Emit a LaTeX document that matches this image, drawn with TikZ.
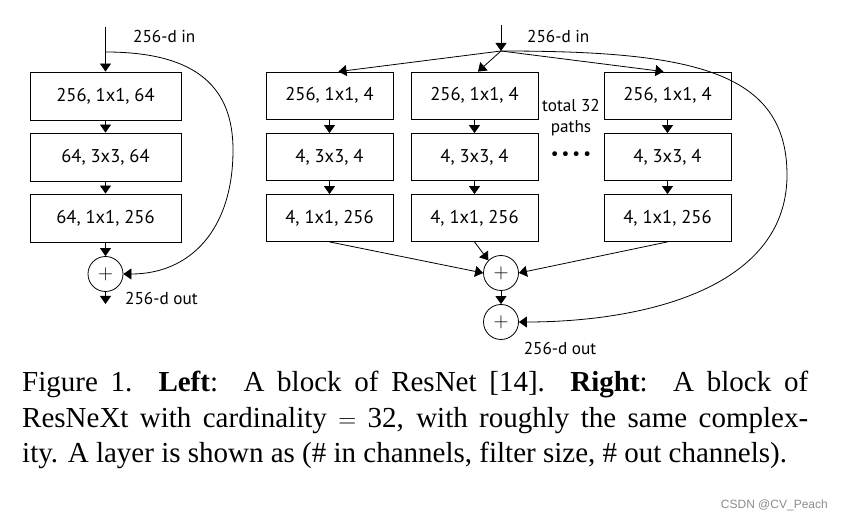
\documentclass[tikz,border=0pt]{standalone}
\usepackage{fontspec}
\setmainfont{Liberation Serif}
\newfontfamily\diagfont{PT Sans}
\newfontfamily\capfont{Liberation Serif}
\newfontfamily\wmfont{Liberation Sans}
\usetikzlibrary{arrows.meta}
\tikzset{
  layer/.style={draw, line width=0.8pt, font=\diagfont\fontsize{18.5}{20}\selectfont, inner sep=0pt},
  lbox/.style={layer, minimum width=151pt, minimum height=48pt},
  rbox/.style={layer, minimum width=127pt, minimum height=47pt},
  sumc/.style={draw, circle, minimum size=35pt, inner sep=0pt, line width=0.8pt, font=\fontsize{22}{24}\selectfont},
  arr/.style={-{Triangle[width=11pt,length=8pt]}, line width=0.8pt},
  lbl/.style={font=\diagfont\fontsize{17.2}{19}\selectfont, inner sep=0pt},
  capline/.style={font=\capfont\fontsize{29}{34}\selectfont, inner sep=0pt, anchor=base west},
  wm/.style={font=\wmfont\fontsize{12}{14}\selectfont, text=black!45, inner sep=0pt, anchor=base east}
}
\begin{document}
\begin{tikzpicture}[x=1pt,y=-1pt]
\useasboundingbox (0,0) rectangle (841,518);
% ---- left block
\node[lbox] (L1) at (105.5,96) {256, 1x1, 64};
\node[lbox] (L2) at (105.5,157) {64, 3x3, 64};
\node[lbox] (L3) at (105.5,218) {64, 1x1, 256};
\node[sumc] (LS) at (105.5,274) {$+$};
\coordinate (Lin) at (105.5,27);
\coordinate (Lsplit) at (105.5,52);
\coordinate (Lout) at (105.5,304);
\node[lbl, anchor=west] (Linl) at (133,36) {256-d in};
\node[lbl, anchor=west] (Loutl) at (125,298) {256-d out};
\draw[arr] (Lin) -- (L1);
\draw[arr] (L1) -- (L2);
\draw[arr] (L2) -- (L3);
\draw[arr] (L3) -- (LS);
\draw[arr] (LS) -- (Lout);
\draw[arr] (Lsplit) .. controls (200,52) and (233,90) .. (233,150) .. controls (233,230) and (190,274) .. (LS.east);
% ---- right block
\node[rbox] (A1) at (329.5,95.5) {256, 1x1, 4};
\node[rbox] (A2) at (329.5,157) {4, 3x3, 4};
\node[rbox] (A3) at (329.5,218) {4, 1x1, 256};
\node[rbox] (B1) at (474.5,95.5) {256, 1x1, 4};
\node[rbox] (B2) at (474.5,157) {4, 3x3, 4};
\node[rbox] (B3) at (474.5,218) {4, 1x1, 256};
\node[rbox] (C1) at (667.5,95.5) {256, 1x1, 4};
\node[rbox] (C2) at (667.5,157) {4, 3x3, 4};
\node[rbox] (C3) at (667.5,218) {4, 1x1, 256};
\node[sumc] (R1) at (501,273) {$+$};
\node[sumc] (R2) at (501,322) {$+$};
\coordinate (Rin) at (501,25);
\coordinate (Rsplit) at (501,51);
\node[lbl, anchor=west] (Rinl) at (527,36) {256-d in};
\node[lbl] (Routl) at (560,348) {256-d out};
\node[lbl] (tot1) at (571,105) {total 32};
\node[lbl] (tot2) at (571,128) {paths};
\node[lbl] (dots) at (571,156) {\textbullet\hspace{3pt}\textbullet\hspace{3pt}\textbullet\hspace{3pt}\textbullet};
\draw[arr] (Rin) -- (Rsplit);
\draw[arr] (Rsplit) -- ([xshift=9pt]A1.north);
\draw[arr] (Rsplit) -- ([xshift=3.5pt]B1.north);
\draw[arr] (Rsplit) -- ([xshift=-4pt]C1.north);
\draw[arr] (A1) -- (A2);
\draw[arr] (A2) -- (A3);
\draw[arr] (B1) -- (B2);
\draw[arr] (B2) -- (B3);
\draw[arr] (C1) -- (C2);
\draw[arr] (C2) -- (C3);
\draw[arr] (A3.south) -- (R1.west);
\draw[arr] (B3.south) -- (R1.north west);
\draw[arr] (C3.south) -- (R1.east);
\draw[arr] (R1) -- (R2);
\draw[arr] (Rsplit) .. controls (690,51) and (787,70) .. (787,175) .. controls (787,290) and (640,322) .. (R2.east);
% ---- caption
\node[capline] (cap1) at (22,392) {\makebox[786pt][s]{Figure 1. \textbf{Left}:\ \ A block of ResNet [14].\ \ \textbf{Right}:\ \ A block of}};
\node[capline] (cap2) at (22,428) {\makebox[786pt][s]{ResNeXt with cardinality $=$ 32, with roughly the same complex-}};
\node[capline] (cap3) at (22,463) {ity. A layer is shown as (\# in channels, filter size, \# out channels).};
\node[wm] (wmk) at (828,508) {CSDN @CV\_Peach};
\end{tikzpicture}
\end{document}
